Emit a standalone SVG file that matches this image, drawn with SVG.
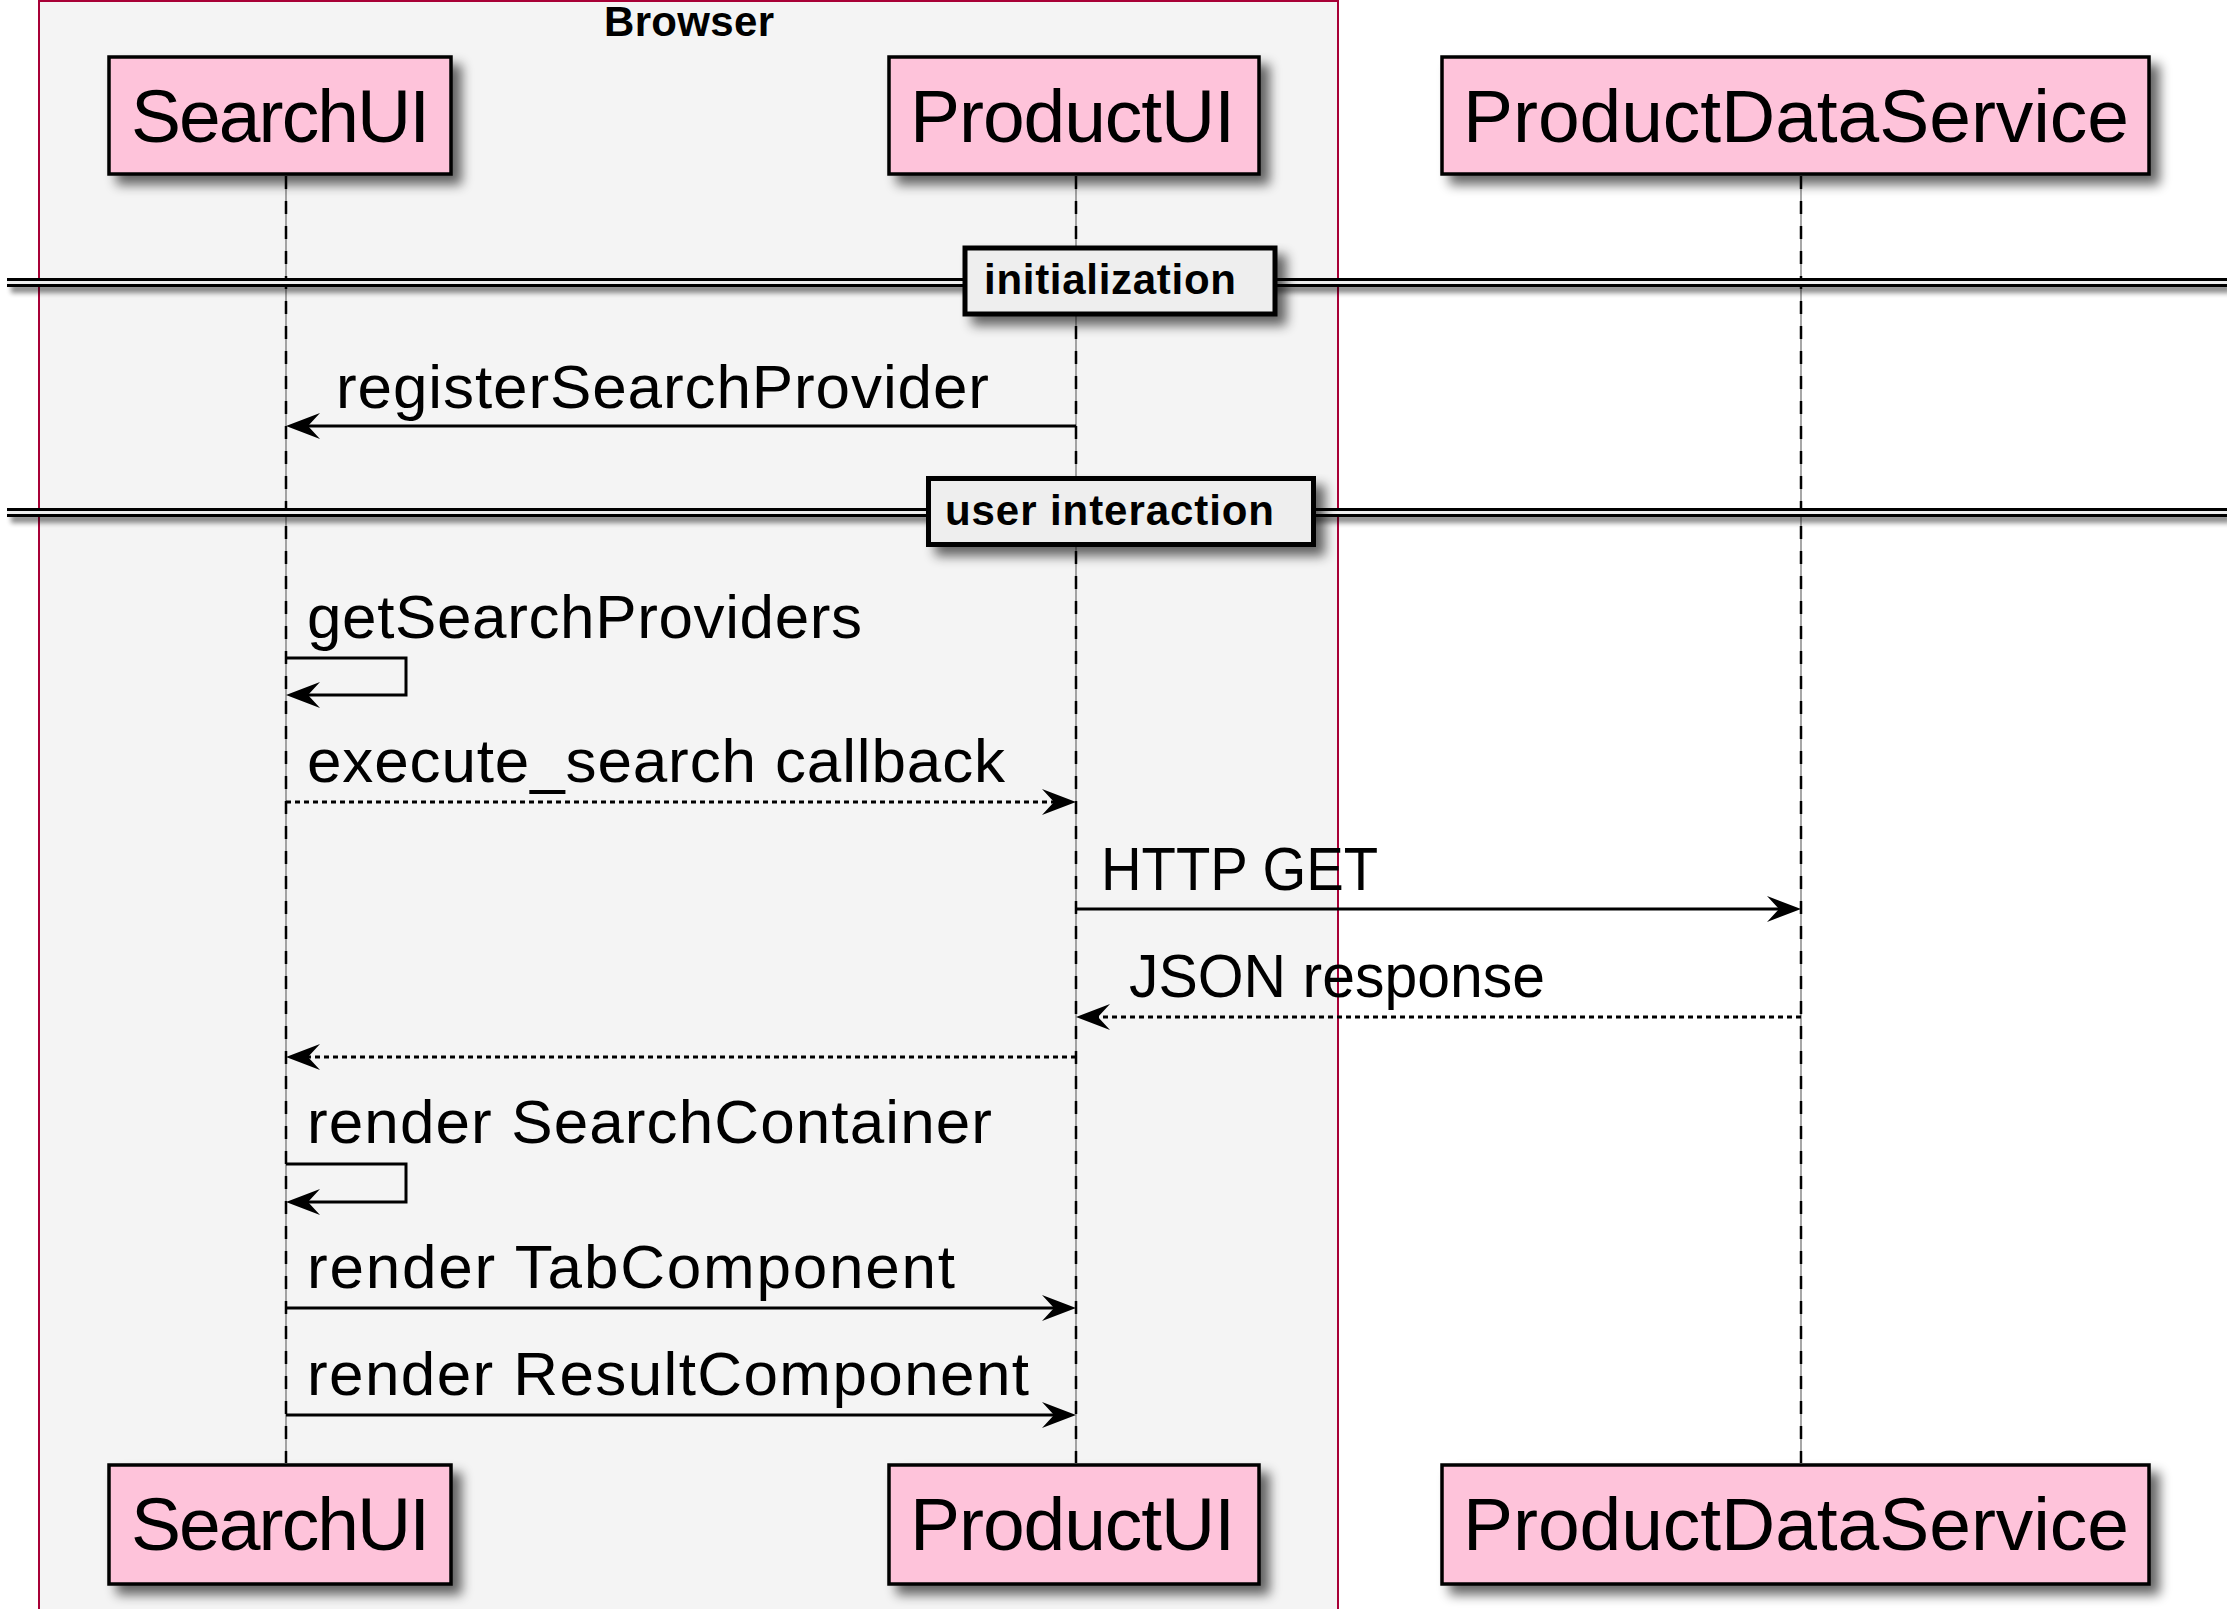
<svg xmlns="http://www.w3.org/2000/svg" width="2227" height="1609" viewBox="0 0 2227 1609">
<defs>
<style>
.pbox{fill:#FEC3DA;stroke:#000;stroke-width:3.5}
.ptxt{font-family:"Liberation Sans",Arial,sans-serif;font-size:75px;fill:#000}
.btxt{font-family:"Liberation Sans",Arial,sans-serif;font-size:42px;font-weight:bold;fill:#000}
.mtxt{font-family:"Liberation Sans",Arial,sans-serif;font-size:62px;fill:#000}
.life{stroke:#000;stroke-width:2.5;stroke-dasharray:13,12;fill:none}
.lifeg{stroke:#777;stroke-width:1.3;fill:none}
.msg{stroke:#000;stroke-width:3;fill:none;marker-end:url(#ah)}
.dash{stroke-dasharray:5,4}
.dline{stroke:#000;stroke-width:3}
.dbox{fill:#EEEEEE;stroke:#000;stroke-width:5}
</style>
<filter id="sh" x="-5%" y="-20%" width="115%" height="170%">
<feGaussianBlur in="SourceAlpha" stdDeviation="6"/>
<feOffset dx="9" dy="9"/>
<feComponentTransfer><feFuncA type="linear" slope="0.6"/></feComponentTransfer>
<feMerge><feMergeNode/><feMergeNode in="SourceGraphic"/></feMerge>
</filter>
<filter id="shl" x="-2%" y="-100%" width="104%" height="400%">
<feGaussianBlur in="SourceAlpha" stdDeviation="2.5"/>
<feOffset dx="4" dy="6"/>
<feComponentTransfer><feFuncA type="linear" slope="0.45"/></feComponentTransfer>
<feMerge><feMergeNode/><feMergeNode in="SourceGraphic"/></feMerge>
</filter>
<marker id="ah" viewBox="-40 -16 44 32" refX="-6" refY="0" markerWidth="44" markerHeight="32" markerUnits="userSpaceOnUse" orient="auto">
<path d="M0,0 L-34,-13 L-22,0 L-34,13 Z" fill="#000"/>
</marker>
</defs>
<rect x="0" y="0" width="2227" height="1609" fill="#FFFFFF"/>

<g id="browser">
<rect x="39" y="1" width="1299" height="1700" fill="#F4F4F4" stroke="#A80036" stroke-width="2"/>
<text class="btxt" x="689" y="36" text-anchor="middle" textLength="170" lengthAdjust="spacing">Browser</text>
</g>

<g id="lifelines">
<line class="lifeg" x1="286" y1="176" x2="286" y2="1463"/>
<line class="life" x1="286" y1="176" x2="286" y2="1463"/>
<line class="lifeg" x1="1076" y1="176" x2="1076" y2="1463"/>
<line class="life" x1="1076" y1="176" x2="1076" y2="1463"/>
<line class="lifeg" x1="1801" y1="176" x2="1801" y2="1463"/>
<line class="life" x1="1801" y1="176" x2="1801" y2="1463"/>
</g>

<g id="div-initialization">
<g filter="url(#shl)">
<rect x="7" y="278" width="2220" height="9" fill="#EEEEEE"/>
<line class="dline" x1="7" y1="279.5" x2="2227" y2="279.5"/>
<line class="dline" x1="7" y1="285.5" x2="2227" y2="285.5"/>
</g>
<rect class="dbox" x="965" y="248" width="310" height="66" filter="url(#sh)"/>
<text class="btxt" x="984" y="294" textLength="252" lengthAdjust="spacing">initialization</text>
</g>

<g id="div-user-interaction">
<g filter="url(#shl)">
<rect x="7" y="508" width="2220" height="9" fill="#EEEEEE"/>
<line class="dline" x1="7" y1="509.5" x2="2227" y2="509.5"/>
<line class="dline" x1="7" y1="515.5" x2="2227" y2="515.5"/>
</g>
<rect class="dbox" x="928.5" y="478.5" width="385" height="66" filter="url(#sh)"/>
<text class="btxt" x="945" y="525" textLength="329" lengthAdjust="spacing">user interaction</text>
</g>

<g id="SearchUI-top"><rect class="pbox" x="109" y="57" width="342" height="117" filter="url(#sh)"/><text class="ptxt" x="131" y="142" textLength="299" lengthAdjust="spacing">SearchUI</text></g>
<g id="ProductUI-top"><rect class="pbox" x="889" y="57" width="370" height="117" filter="url(#sh)"/><text class="ptxt" x="910" y="142" textLength="325" lengthAdjust="spacing">ProductUI</text></g>
<g id="ProductDataService-top"><rect class="pbox" x="1442" y="57" width="707" height="117" filter="url(#sh)"/><text class="ptxt" x="1463" y="142" textLength="666" lengthAdjust="spacing">ProductDataService</text></g>

<g id="SearchUI-bottom"><rect class="pbox" x="109" y="1465" width="342" height="119" filter="url(#sh)"/><text class="ptxt" x="131" y="1550" textLength="299" lengthAdjust="spacing">SearchUI</text></g>
<g id="ProductUI-bottom"><rect class="pbox" x="889" y="1465" width="370" height="119" filter="url(#sh)"/><text class="ptxt" x="910" y="1550" textLength="325" lengthAdjust="spacing">ProductUI</text></g>
<g id="ProductDataService-bottom"><rect class="pbox" x="1442" y="1465" width="707" height="119" filter="url(#sh)"/><text class="ptxt" x="1463" y="1550" textLength="666" lengthAdjust="spacing">ProductDataService</text></g>

<g id="connectors">
<path class="msg" d="M1076,426 H292"/>
<text class="mtxt" x="336" y="408" textLength="653" lengthAdjust="spacing">registerSearchProvider</text>

<path class="msg" d="M286,658 H406 V695 H292"/>
<text class="mtxt" x="307" y="638" textLength="555" lengthAdjust="spacing">getSearchProviders</text>

<path class="msg dash" d="M286,802 H1070"/>
<text class="mtxt" x="307" y="782" textLength="698" lengthAdjust="spacing">execute_search callback</text>

<path class="msg" d="M1076,909 H1795"/>
<text class="mtxt" x="1101" y="890" textLength="277" lengthAdjust="spacingAndGlyphs">HTTP GET</text>

<path class="msg dash" d="M1801,1017 H1082"/>
<text class="mtxt" x="1129" y="997" textLength="416" lengthAdjust="spacingAndGlyphs">JSON response</text>

<path class="msg dash" d="M1076,1057 H292"/>

<path class="msg" d="M286,1164 H406 V1202 H292"/>
<text class="mtxt" x="307" y="1143" textLength="685" lengthAdjust="spacing">render SearchContainer</text>

<path class="msg" d="M286,1308 H1070"/>
<text class="mtxt" x="307" y="1288" textLength="648" lengthAdjust="spacing">render TabComponent</text>

<path class="msg" d="M286,1415 H1070"/>
<text class="mtxt" x="307" y="1395" textLength="722" lengthAdjust="spacing">render ResultComponent</text>
</g>
</svg>
